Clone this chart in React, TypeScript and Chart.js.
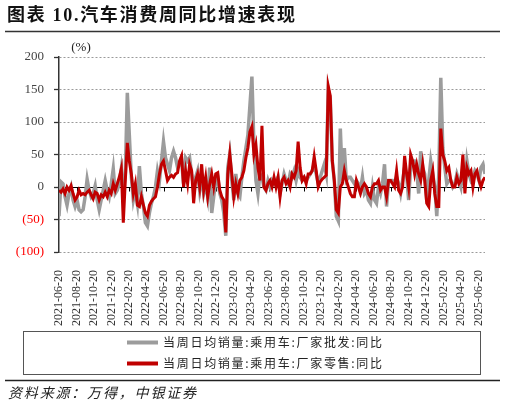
import { useEffect, useRef } from 'react';
import { Chart, registerables } from 'chart.js';

Chart.register(...registerables);

const titleText = '图表 10.汽车消费周同比增速表现';
const sourceText = '资料来源：万得，中银证券';
const unitText = '(%)';
const startDate = '2021-06-20';
const seriesNames = ['当周日均销量:乘用车:厂家批发:同比', '当周日均销量:乘用车:厂家零售:同比'];
const seriesColors = ['#9C9C9C', '#C00000'];

const xTickLabels = [
  '2021-06-20', '2021-08-20', '2021-10-20', '2021-12-20',
  '2022-02-20', '2022-04-20', '2022-06-20', '2022-08-20', '2022-10-20', '2022-12-20',
  '2023-02-20', '2023-04-20', '2023-06-20', '2023-08-20', '2023-10-20', '2023-12-20',
  '2024-02-20', '2024-04-20', '2024-06-20', '2024-08-20', '2024-10-20', '2024-12-20',
  '2025-02-20', '2025-04-20', '2025-06-20',
];

const yTicks = [200, 150, 100, 50, 0, -50, -100];

// weekly YoY (%), wholesale
const wholesaleYoY = [
  -45, 8, 5, -15, -28, -10, 0, -20, -30, -20,
  -35, -38, -35, -15, 12, -5, -15, -10, 2, -20,
  -35, -20, -5, 10, -5, -15, 5, 28, -10, -5,
  5, 28, -5, 20, 145, 80, 15, -20, -5, -25,
  32, -10, -30, -55, -60, -40, -25, -15, 0, 25,
  10, 40, 70, 45, 35, 25, 45, 55, 45, 30,
  35, 40, 5, 45, 40, 45, 20, 0, 15, 25,
  -5, 15, -10, 5, -15, 30, -40, -15, 10, 15,
  -10, -20, -40, -75, 30, 50, 10, -20, 20, -10,
  -15, 15, 40, 60, 80, 125, 170, 65, 10, -10,
  20, 15, 0, -5, 10, 0, 10, 5, 10, 15,
  -10, 5, 20, 10, 5, 20, 15, 25, 10, 25,
  15, 10, 15, 10, 15, 20, 25, 35, 20, 5,
  15, 25, 35, 20, 150, 135, 40, 10, -45, -52,
  90, 10, 60, 10, 15, 15, 10, 5, 10, 5,
  -5, 15, -10, -5, -20, -25, 0, -20, -25, 0,
  -10, 5, 35, -30, 10, 10, 10, 5, 15, 5,
  -10, 10, 30, 20, -20, 30, 40, 40, 25, -10,
  55, 30, 20, -20, 10, 40, 20, 0, -45, 20,
  168, 60, 30, 5, 10, 10, 0, 5, 20, 10,
  0, 30, 0, 40, 20, 10, 15, 25, 20, 10,
  30, 35, 20,
];

// weekly YoY (%), retail
const retailYoY = [
  -5, -8, -3, -10, 0, -5, 2, -10, -20, -15,
  -5, -12, -10, -12, -8, -5, -12, -18, -8, -10,
  -20, -12, -15, -8, -15, -5, -10, 5, -5, 5,
  15, 28, -55, 10, 68, 40, 20, -10, 5, -28,
  -30, -15, -28, -40, -45, -28, -22, -18, -15, 0,
  20, 35, 40, 25, 10, 15, 18, 15, 20, 22,
  40, 48, 0, 25, 5, 35, 25, -25, 10, 20,
  0, 35, -5, 15, -15, 5, 20, 0, 20, 22,
  -5, -15, -20, -70, 20, 50, 20, -15, 5, -10,
  10, 15, 25, 45, 60, 85, 93, 50, 65, 30,
  10, 94, 0, -5, 5, 10, 0, 15, 0, 15,
  -15, 10, 15, 5, 10, 0, 20, 15, 25, 70,
  30, 10, 15, 5, 20, 20, 25, 47, 25, 0,
  8, 12, 15, 18, 155, 140, 40, 10, -35, -40,
  0, 5, 25, 10, 0, -10, -15, -15, 10, 0,
  -10, 0, 5, 0, -10, -15, 0, 5, 5, 10,
  -5, 0, 0, -15, 10, 10, 5, 0, 25, -5,
  -10, 0, 48, 20, 0, 50, 40, 20, 35, 20,
  10, 35, 10, -25, -30, 10, 25, -10, -30, -30,
  90, 50, 40, 25, 30, 10, 0, 0, 15, 5,
  10, 50, -10, 30, 20, 25, 0, 20, 25, 10,
  0, 10, 15,
];

const DAY = 86400000;
function dayOffset(label: string): number {
  const [y, m, d] = label.split('-').map(Number);
  const [sy, sm, sd] = startDate.split('-').map(Number);
  return Math.round((Date.UTC(y, m - 1, d) - Date.UTC(sy, sm - 1, sd)) / DAY);
}

const SERIF = '"Liberation Serif", "Times New Roman", serif';
const CJK = '"Noto Sans CJK SC", "Liberation Serif", sans-serif';

function drawSpaced(ctx: CanvasRenderingContext2D, text: string, x: number, y: number, target: number, font: string, color: string) {
  ctx.font = font;
  (ctx as any).letterSpacing = '0px';
  const w = ctx.measureText(text).width;
  const n = Array.from(text).length;
  const sp = n > 1 ? Math.max(0, (target - w) / (n - 1)) : 0;
  (ctx as any).letterSpacing = sp.toFixed(2) + 'px';
  ctx.fillStyle = color;
  ctx.textAlign = 'left';
  ctx.textBaseline = 'middle';
  ctx.fillText(text, x, y);
  (ctx as any).letterSpacing = '0px';
}

const decorPlugin = {
  id: 'decor',
  beforeDatasetsDraw(chart: any) {
    const { ctx, chartArea, scales } = chart;
    const y0 = Math.round(scales.y.getPixelForValue(0)) + 0.5;
    ctx.save();
    ctx.strokeStyle = '#000';
    ctx.lineWidth = 1;
    ctx.beginPath();
    ctx.moveTo(chartArea.left, y0);
    ctx.lineTo(chartArea.right, y0);
    scales.x.ticks.forEach((t: any) => {
      const px = Math.round(scales.x.getPixelForValue(t.value)) + 0.5;
      ctx.moveTo(px, y0);
      ctx.lineTo(px, y0 + 4);
    });
    ctx.stroke();
    ctx.restore();
  },
  afterDraw(chart: any) {
    const { ctx } = chart;
    ctx.save();
    // title + rule
    drawSpaced(ctx, titleText, 7, 16, 288, 'bold 18px "Liberation Serif", "Noto Sans CJK SC", serif', '#111');
    ctx.strokeStyle = '#333';
    ctx.lineWidth = 1.3;
    ctx.beginPath();
    ctx.moveTo(5, 31.5);
    ctx.lineTo(500, 31.5);
    ctx.stroke();
    // unit
    ctx.font = '13px ' + SERIF;
    ctx.fillStyle = '#222';
    ctx.textAlign = 'center';
    ctx.textBaseline = 'middle';
    ctx.fillText(unitText, 81, 48);
    // legend box
    ctx.strokeStyle = '#555';
    ctx.lineWidth = 1;
    ctx.strokeRect(23.5, 331.5, 457, 43);
    const rows = [342.5, 363.5];
    seriesNames.forEach((name, i) => {
      ctx.strokeStyle = seriesColors[i];
      ctx.lineWidth = 4;
      ctx.beginPath();
      ctx.moveTo(127, rows[i]);
      ctx.lineTo(158, rows[i]);
      ctx.stroke();
      drawSpaced(ctx, name, 163, rows[i], 219, '12px ' + CJK, '#222');
    });
    // bottom rule + source
    ctx.strokeStyle = '#222';
    ctx.lineWidth = 1.3;
    ctx.beginPath();
    ctx.moveTo(5, 380.5);
    ctx.lineTo(500, 380.5);
    ctx.stroke();
    drawSpaced(ctx, sourceText, 8, 392.5, 188, 'italic 14px ' + CJK, '#222');
    ctx.restore();
  },
};

export default function App() {
  const canvasRef = useRef<HTMLCanvasElement | null>(null);

  useEffect(() => {
    document.body.style.margin = '0';
    const canvas = canvasRef.current;
    if (!canvas) return;
    const n = wholesaleYoY.length;
    const xMax = (n - 1) * 7;
    const toPoints = (arr: number[]) => arr.map((v, i) => ({ x: i * 7, y: v }));

    const chart = new Chart(canvas, {
      type: 'line',
      data: {
        datasets: [
          {
            label: seriesNames[0],
            data: toPoints(wholesaleYoY),
            borderColor: seriesColors[0],
            backgroundColor: seriesColors[0],
            borderWidth: 3.5,
            pointRadius: 0,
            tension: 0,
            order: 1,
          },
          {
            label: seriesNames[1],
            data: toPoints(retailYoY),
            borderColor: seriesColors[1],
            backgroundColor: seriesColors[1],
            borderWidth: 3,
            pointRadius: 0,
            tension: 0,
            order: 0,
          },
        ],
      },
      options: {
        animation: false,
        responsive: true,
        maintainAspectRatio: false,
        layout: { padding: { top: 57, right: 20, bottom: 0, left: 0 } },
        plugins: {
          legend: { display: false },
          tooltip: { enabled: false },
          title: { display: false },
        },
        scales: {
          x: {
            type: 'linear',
            min: 0,
            max: xMax,
            grid: { display: false },
            border: { display: false },
            afterBuildTicks: (scale: any) => {
              scale.ticks = xTickLabels.map((l) => ({ value: dayOffset(l) }));
            },
            afterFit: (scale: any) => {
              scale.height = 155;
            },
            ticks: {
              autoSkip: false,
              minRotation: 90,
              maxRotation: 90,
              padding: 10,
              color: '#333',
              font: { family: SERIF, size: 12 },
              callback: (_v: any, i: number) => xTickLabels[i],
            },
          },
          y: {
            min: -100,
            max: 200,
            afterBuildTicks: (scale: any) => {
              scale.ticks = yTicks.map((v) => ({ value: v }));
            },
            afterFit: (scale: any) => {
              scale.width = 59;
            },
            grid: {
              color: '#9A9A9A',
              lineWidth: 1,
              drawTicks: true,
              tickLength: 5,
              tickColor: '#333',
              tickWidth: 1.3,
            },
            border: { display: true, color: '#333', width: 1.5, dash: [2, 2] },
            ticks: {
              padding: 10,
              font: { family: SERIF, size: 13 },
              color: (c: any) => (c.tick && c.tick.value < 0 ? '#FF0000' : '#444'),
              callback: (v: any) => (Number(v) < 0 ? `(${-Number(v)})` : `${v}`),
            },
          },
        },
      },
      plugins: [decorPlugin],
    } as any);

    return () => chart.destroy();
  }, []);

  return (
    <div style={{ width: 505, height: 407, position: 'relative' }}>
      <canvas ref={canvasRef} style={{ display: 'block' }} />
    </div>
  );
}
